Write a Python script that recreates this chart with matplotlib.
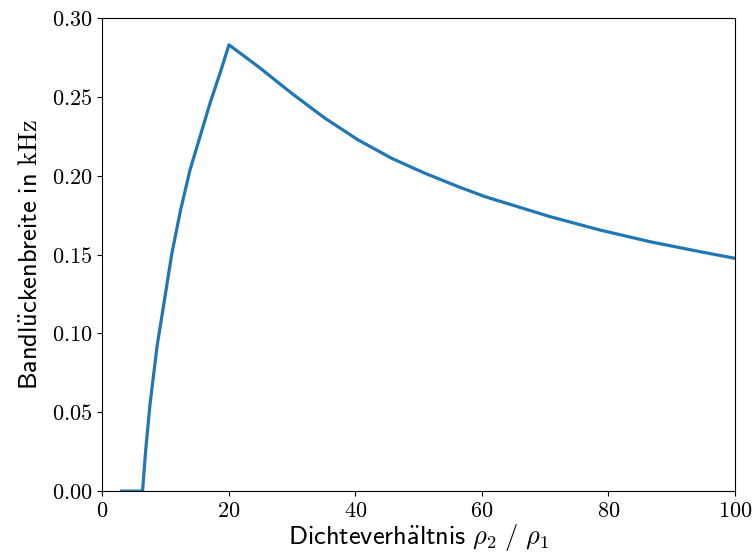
import matplotlib.pyplot as plt
from matplotlib.ticker import FuncFormatter

plt.rcParams['mathtext.fontset'] = 'cm'

# Dichteverhaeltnis rho2/rho1 und Bandlueckenbreite
verhaeltnis = [3.1, 6.4, 6.9, 7.58, 8.7, 9.9, 11.0, 12.4, 13.9, 15.48, 17.06, 18.64, 20.06,
               24.69, 29.97, 35.23, 40.49, 45.76, 51.03, 56.29, 60.5,
               70.8, 78.7, 86.6, 94.5, 100.0]
breite = [0.0, 0.0, 0.026, 0.055, 0.092, 0.122, 0.150, 0.178, 0.2036, 0.2247, 0.2459, 0.2649, 0.2829,
          0.2691, 0.2522, 0.2364, 0.2226, 0.2110, 0.2015, 0.1930, 0.1867,
          0.1740, 0.1655, 0.1581, 0.1518, 0.1476]

x_ticks = [0, 20, 40, 60, 80, 100]
y_ticks = [0.0, 0.05, 0.10, 0.15, 0.20, 0.25, 0.30]

fig = plt.figure(figsize=(7.53, 5.6), dpi=100)
ax = fig.add_axes([0.1355, 0.123, 0.8405, 0.845])

ax.plot(verhaeltnis, breite, '-', color='#1f77b4', linewidth=2.3)

ax.set_xlim(0, 100)
ax.set_ylim(0, 0.30)
ax.set_xticks(x_ticks)
ax.set_yticks(y_ticks)
ax.xaxis.set_major_formatter(FuncFormatter(lambda v, p: '$%d$' % v))
ax.yaxis.set_major_formatter(FuncFormatter(lambda v, p: '$%.2f$' % v))
ax.tick_params(labelsize=16)

ax.set_xlabel(r'$\mathsf{Dichteverh\ddot{a}ltnis}\ \rho_2\ /\ \rho_1$', fontsize=19, labelpad=1)
ax.set_ylabel(r'$\mathsf{Bandl\ddot{u}ckenbreite\ in}\ \mathrm{kHz}$', fontsize=19, labelpad=6)

plt.savefig('out.png', dpi=100)
